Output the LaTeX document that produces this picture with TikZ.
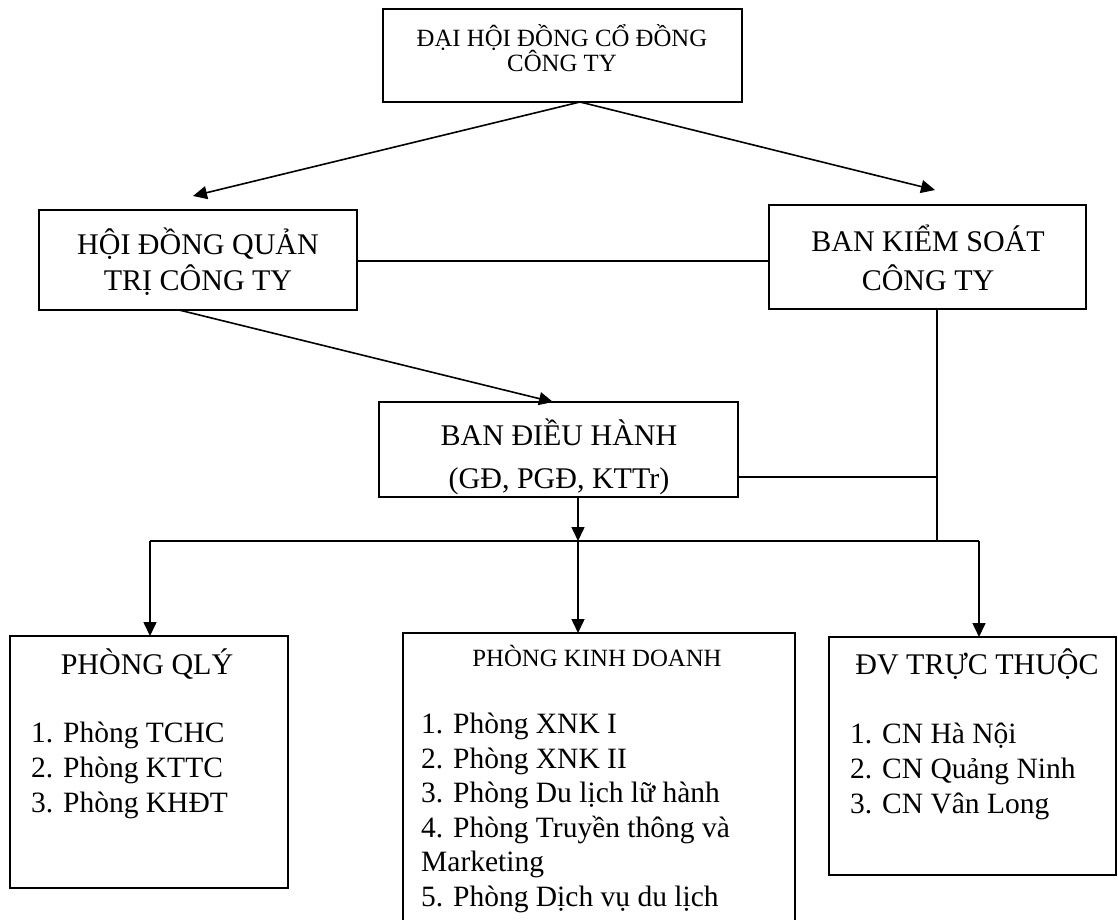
\documentclass[tikz,border=0pt]{standalone}
\usepackage{fontspec}
\setmainfont{Liberation Serif}
\usetikzlibrary{arrows.meta}
\begin{document}
\begin{tikzpicture}[x=1pt,y=-1pt,
  box/.style={draw, line width=1.8pt, inner sep=0pt, outer sep=0pt, anchor=north west},
  conn/.style={line width=1.6pt},
  arr/.style={conn, -{Triangle[length=14pt,width=13pt]}},
  hd/.style={font=\fontsize{30}{36}\selectfont, inner sep=0pt, anchor=base},
  sm/.style={font=\fontsize{24.8}{30}\selectfont, inner sep=0pt, anchor=base},
  li/.style={font=\fontsize{29.5}{35}\selectfont, inner sep=0pt, anchor=base west}]
\useasboundingbox (0,0) rectangle (1118,920);
\fill[white] (0,0) rectangle (1118,920);
\begin{scope}
\clip (0,0) rectangle (1118,920);
% boxes
\node[box, minimum width=359pt, minimum height=93pt] (dh) at (383,9) {};
\node[box, minimum width=318pt, minimum height=100pt] (hdqt) at (39,210) {};
\node[box, minimum width=317pt, minimum height=104pt] (bks) at (769,205) {};
\node[box, minimum width=359pt, minimum height=95pt] (bdh) at (379,402) {};
\node[box, minimum width=278pt, minimum height=252pt] (pq) at (10,636) {};
\node[box, minimum width=392pt, minimum height=320pt] (pkd) at (403,633) {};
\node[box, minimum width=287pt, minimum height=238pt] (dv) at (829,637) {};
% texts
\node[sm] (dh1) at (562,46.5) {ĐẠI HỘI ĐỒNG CỔ ĐỒNG};
\node[sm] (dh2) at (562,71.5) {CÔNG TY};
\node[hd] (hq1) at (198,254) {HỘI ĐỒNG QUẢN};
\node[hd] (hq2) at (198,290) {TRỊ CÔNG TY};
\node[hd] (bk1) at (928,251) {BAN KIỂM SOÁT};
\node[hd] (bk2) at (928,290) {CÔNG TY};
\node[hd] (bd1) at (559,445) {BAN ĐIỀU HÀNH};
\node[hd] (bd2) at (559,488) {(GĐ, PGĐ, KTTr)};
\node[hd] (pqt) at (147,674) {PHÒNG QLÝ};
\node[li] (pq1) at (31,742) {1. Phòng TCHC};
\node[li] (pq2) at (31,777) {2. Phòng KTTC};
\node[li] (pq3) at (31,812) {3. Phòng KHĐT};
\node[sm] (pkt) at (597,666) {PHÒNG KINH DOANH};
\node[li] (pk1) at (421,733) {1. Phòng XNK I};
\node[li] (pk2) at (421,768) {2. Phòng XNK II};
\node[li] (pk3) at (421,802.5) {3. Phòng Du lịch lữ hành};
\node[li] (pk4) at (421,837) {4. Phòng Truyền thông và};
\node[li] (pk5) at (421,871.5) {Marketing};
\node[li] (pk6) at (421,906) {5. Phòng Dịch vụ du lịch};
\node[hd] (dvt) at (977,674) {ĐV TRỰC THUỘC};
\node[li] (dv1) at (850,743) {1. CN Hà Nội};
\node[li] (dv2) at (850,778) {2. CN Quảng Ninh};
\node[li] (dv3) at (850,813) {3. CN Vân Long};
% connectors
\draw[arr] ([xshift=17.5pt]dh.south) -- ([xshift=-5pt,yshift=14pt]hdqt.north);
\draw[arr] ([xshift=17.5pt]dh.south) -- ([xshift=7.5pt,yshift=15pt]bks.north);
\draw[conn] ([yshift=-1pt]hdqt.east) -- ([yshift=-1pt]hdqt.east -| bks.west);
\draw[arr] ([xshift=-19pt]hdqt.south) -- ([xshift=-5.5pt]bdh.north);
\coordinate (jr) at (937,541);
\coordinate (jm) at (578,541);
\coordinate (bl) at (150,541);
\coordinate (br) at (979,541);
\draw[conn] ([xshift=9.5pt]bks.south) -- (jr);
\draw[conn] ([yshift=-27.5pt]bdh.east) -- ([yshift=-27.5pt]bdh.east -| jr);
\draw[arr] ([xshift=19.5pt]bdh.south) -- (jm);
\draw[conn] (bl) -- (br);
\draw[arr] (bl) -- (bl |- pq.north);
\draw[arr] (jm) -- (jm |- pkd.north);
\draw[arr] (br) -- (br |- dv.north);
\end{scope}
\end{tikzpicture}
\end{document}
